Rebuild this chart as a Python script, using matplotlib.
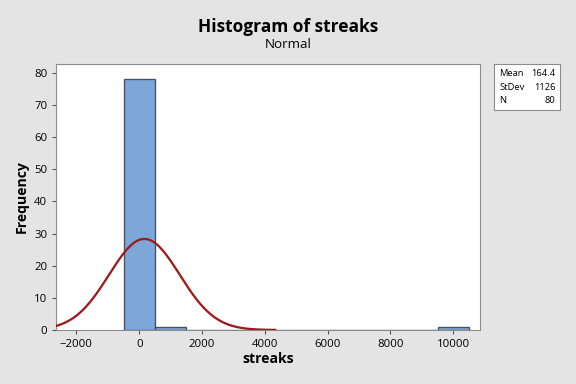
import numpy as np
import matplotlib
matplotlib.use('Agg')
import matplotlib.pyplot as plt

# histogram of streaks (minitab style)
bin_edges = [-500, 500, 1500, 2500, 3500, 4500, 5500, 6500, 7500, 8500, 9500, 10500]
counts = [78, 1, 0, 0, 0, 0, 0, 0, 0, 0, 1]
mean = 164.4
stdev = 1126
n = 80
xticks = [-2000, 0, 2000, 4000, 6000, 8000, 10000]
yticks = [0, 10, 20, 30, 40, 50, 60, 70, 80]

plt.rcParams['font.family'] = ['Open Sans', 'DejaVu Sans']
bg = '#e4e4e4'

fig = plt.figure(figsize=(6, 4), dpi=96, facecolor=bg)
ax = fig.add_axes([0.0972, 0.1406, 0.736, 0.693])
ax.set_facecolor('white')

lefts = bin_edges[:-1]
widths = np.diff(bin_edges)
ax.bar(lefts, counts, width=widths, align='edge', color='#7da7d9',
       edgecolor='#46505c', linewidth=1.0, zorder=2)

# fitted normal curve
bw = bin_edges[1] - bin_edges[0]
xs = np.linspace(mean - 4 * stdev, mean + 3.7 * stdev, 400)
ys = n * bw / (stdev * np.sqrt(2 * np.pi)) * np.exp(-0.5 * ((xs - mean) / stdev) ** 2)
ax.plot(xs, ys, color='#9e1a1a', linewidth=1.7, zorder=3)

ax.set_xlim(-2650, 10850)
ax.set_ylim(0, 82.8)
ax.set_xticks(xticks)
ax.set_yticks(yticks)
ax.tick_params(labelsize=8.5, length=3, color='#555555')
for s in ax.spines.values():
    s.set_color('#8c8c8c')

ax.set_xlabel('streaks', fontsize=10.5, fontweight='bold', labelpad=2)
ax.set_ylabel('Frequency', fontsize=10.5, fontweight='bold', labelpad=4)

fig.text(0.5, 0.93, 'Histogram of streaks', ha='center', va='center',
         fontsize=13, fontweight='bold')
fig.text(0.5, 0.883, 'Normal', ha='center', va='center', fontsize=10)

# stats box
bx = fig.add_axes([494 / 576, 1 - 110 / 384, 66 / 576, 46 / 384])
bx.set_facecolor('white')
bx.set_xticks([])
bx.set_yticks([])
for s in bx.spines.values():
    s.set_color('#8c8c8c')
rows = [('Mean', '164.4'), ('StDev', '1126'), ('N', '80')]
for i, (k, v) in enumerate(rows):
    yy = 0.8 - i * 0.3
    bx.text(0.08, yy, k, fontsize=7, va='center', ha='left', transform=bx.transAxes)
    bx.text(0.93, yy, v, fontsize=7, va='center', ha='right', transform=bx.transAxes)

fig.savefig('out.png', dpi=96, facecolor=bg)
